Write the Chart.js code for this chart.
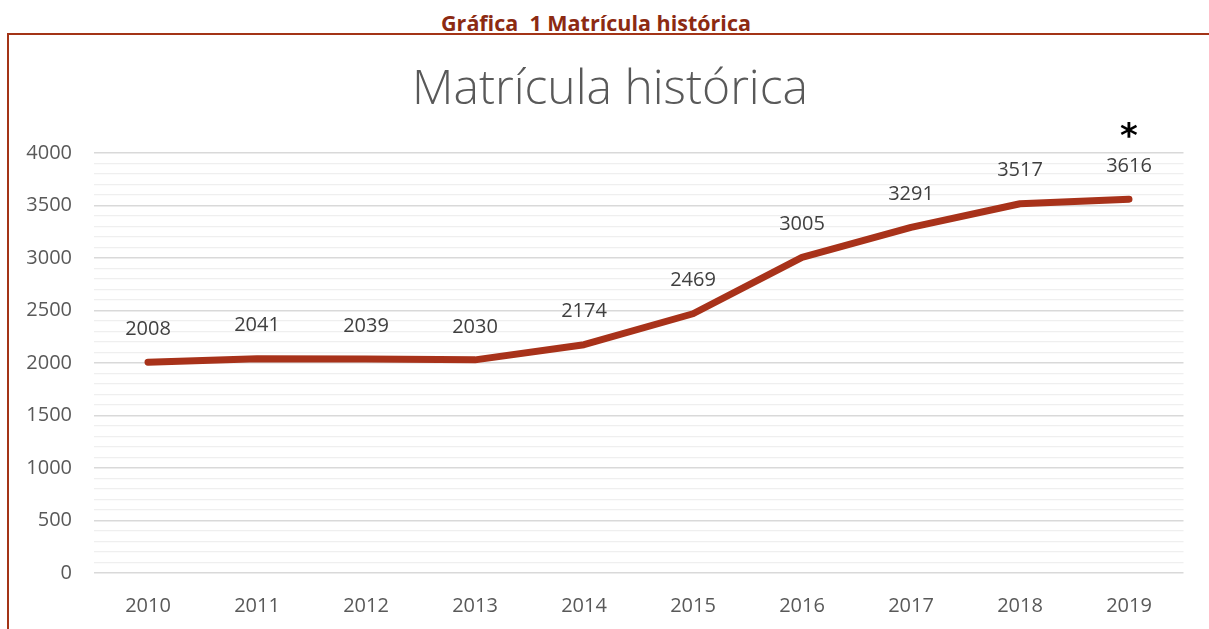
<!DOCTYPE html>
<html>
<head>
<meta charset="utf-8">
<script src="https://cdn.jsdelivr.net/npm/chart.js@4.4.1/dist/chart.umd.min.js"></script>
<style>
  html, body { margin: 0; padding: 0; background: #fff; }
  body { width: 1209px; height: 629px; position: relative; overflow: hidden; }
  #hdr { position: absolute; left: 0; top: 8px; width: 1192px; text-align: center;
         font-family: "Open Sans", sans-serif; font-weight: 700; font-size: 21.5px; color: #8c2a12; }
  #frame { position: absolute; left: 7px; top: 33px; width: 1210px; height: 610px;
           border-top: 2px solid #a33417; border-left: 2px solid #a33417; }
  #wrap { position: absolute; left: 0; top: 0; width: 1209px; height: 629px; }
</style>
</head>
<body>
<div id="hdr">Gráfica&nbsp; 1 Matrícula histórica</div>
<div id="frame"></div>
<div id="wrap"><canvas id="c" width="1209" height="629"></canvas></div>
<script>
const chartTitle = 'Matrícula histórica';
const years = ['2010','2011','2012','2013','2014','2015','2016','2017','2018','2019'];
const enrolment = [2008, 2041, 2039, 2030, 2174, 2469, 3005, 3291, 3517, 3560];
const labelText = ['2008','2041','2039','2030','2174','2469','3005','3291','3517','3616'];
const notes = ['','','','','','','','','','*'];
const yTicks = [0, 500, 1000, 1500, 2000, 2500, 3000, 3500, 4000];

const labelPlugin = {
  id: 'labels',
  afterDraw(chart) {
    const ctx = chart.ctx;
    ctx.save();
    ctx.textAlign = 'center';
    ctx.textBaseline = 'middle';
    ctx.fillStyle = '#595959';
    ctx.font = '300 48px "Open Sans"';
    ctx.fillText(chartTitle, 610, 90);
    ctx.restore();
  },
  afterDatasetsDraw(chart) {
    const ctx = chart.ctx;
    const meta = chart.getDatasetMeta(0);
    ctx.save();
    ctx.textAlign = 'center';
    ctx.textBaseline = 'middle';
    meta.data.forEach((pt, i) => {
      ctx.fillStyle = '#404040';
      ctx.font = '20px "Open Sans"';
      ctx.fillText(labelText[i], pt.x, pt.y - 33);
      if (notes[i]) {
        ctx.fillStyle = '#000';
        ctx.font = 'bold 34px "DejaVu Sans"';
        ctx.fillText(notes[i], pt.x, pt.y - 61);
      }
    });
    ctx.restore();
  }
};

new Chart(document.getElementById('c'), {
  type: 'line',
  data: {
    labels: years,
    datasets: [{
      data: enrolment,
      borderColor: '#a8321a',
      borderWidth: 7,
      borderCapStyle: 'round',
      borderJoinStyle: 'round',
      pointRadius: 0,
      tension: 0,
      fill: false
    }]
  },
  options: {
    responsive: false,
    animation: false,
    layout: { padding: { left: 0, right: 25.5, top: 153, bottom: 0 } },
    plugins: {
      legend: { display: false },
      tooltip: { enabled: false },
      title: { display: false }
    },
    scales: {
      x: {
        offset: true,
        grid: { display: false },
        border: { display: false },
        ticks: { color: '#595959', font: { family: '"Open Sans"', size: 20 }, padding: 13, maxRotation: 0 },
        afterFit(s) { s.height = 56; }
      },
      y: {
        min: 0, max: 4000,
        border: { display: false },
        grid: {
          drawTicks: false,
          lineWidth: (c) => (yTicks.includes(c.tick.value) ? 1.5 : 1.2),
          color: (c) => (yTicks.includes(c.tick.value) ? '#d9d9d9' : '#efefef')
        },
        ticks: {
          stepSize: 100,
          autoSkip: false,
          color: '#595959',
          font: { family: '"Open Sans"', size: 20 },
          padding: 21.5,
          callback: (v) => (yTicks.includes(v) ? String(v) : '')
        },
        afterFit(s) { s.width = 93.5; }
      }
    }
  },
  plugins: [labelPlugin]
});
</script>
</body>
</html>
